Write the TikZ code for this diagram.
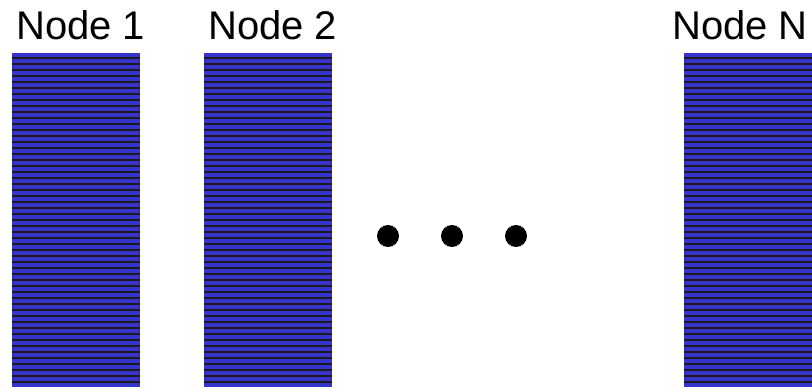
\documentclass[tikz,border=0pt]{standalone}
\usepackage{fontspec}
\setmainfont{Liberation Sans}
\usetikzlibrary{positioning, calc}
\definecolor{rackblue}{HTML}{3434CC}
\definecolor{stripe}{HTML}{1C1A1A}

\begin{document}
\begin{tikzpicture}[x=1pt, y=-1pt,
  rack/.style={fill=rackblue, inner sep=0pt, anchor=north west,
    minimum width=128pt, minimum height=334pt,
    path picture={
      \foreach \k in {0,...,54}
        \fill[stripe] ($(path picture bounding box.north west)+(0,{4.3+6*\k})$) rectangle ++(128,2);
    }},
  lbl/.style={font=\fontsize{40}{48}\selectfont, anchor=base west, inner sep=0pt},
  dot/.style={circle, fill=black, minimum size=22pt, inner sep=0pt}]

\useasboundingbox (0,0) rectangle (812,387);

% Racks
\node[rack] (rack1) at (12,53) {};
\node[rack] (rack2) at (204,53) {};
\node[rack] (rackN) at (684,53) {};

% Labels
\node[lbl] (lbl1) at (16,40) {Node 1};
\node[lbl] (lbl2) at (208,40) {Node 2};
\node[lbl] (lblN) at (672,40) {Node N};

% Ellipsis
\node[dot] (dot1) at (388,236) {};
\node[dot] (dot2) at (452,236) {};
\node[dot] (dot3) at (516,236) {};

\end{tikzpicture}
\end{document}
